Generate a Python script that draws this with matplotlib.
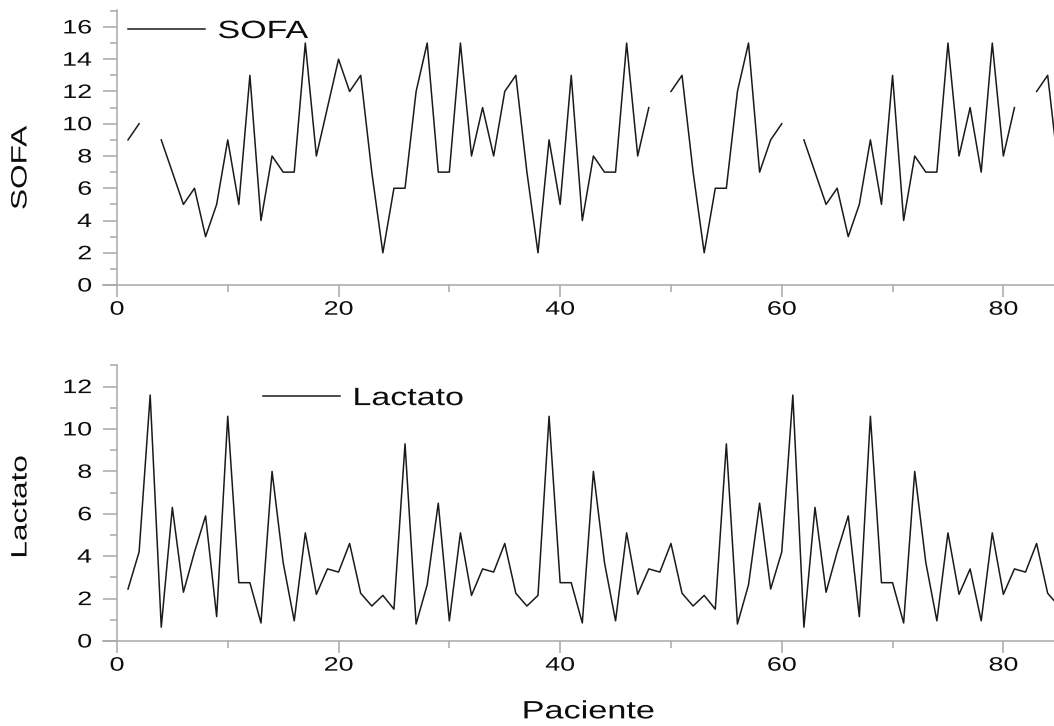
import numpy as np
import matplotlib.pyplot as plt
from matplotlib.patheffects import AbstractPathEffect
from matplotlib.transforms import Affine2D
from matplotlib.ticker import MultipleLocator

plt.rcParams['font.family'] = ['Liberation Sans', 'DejaVu Sans']

nan = np.nan

# patient index and the two measured series
paciente = np.arange(1, 86)
sofa = [9, 10, nan, 9, 7, 5, 6, 3, 5, 9,
        5, 13, 4, 8, 7, 7, 15, 8, 11, 14,
        12, 13, 7, 2, 6, 6, 12, 15, 7, 7,
        15, 8, 11, 8, 12, 13, 7, 2, 9, 5,
        13, 4, 8, 7, 7, 15, 8, 11, nan, 12,
        13, 7, 2, 6, 6, 12, 15, 7, 9, 10,
        nan, 9, 7, 5, 6, 3, 5, 9, 5, 13,
        4, 8, 7, 7, 15, 8, 11, 7, 15, 8,
        11, nan, 12, 13, 7]
lactato = [2.45, 4.2, 11.6, 0.65, 6.3, 2.3, 4.2, 5.9, 1.15, 10.6,
           2.75, 2.75, 0.85, 8.0, 3.7, 0.95, 5.1, 2.2, 3.4, 3.25,
           4.6, 2.25, 1.65, 2.15, 1.5, 9.3, 0.8, 2.65, 6.5, 0.95,
           5.1, 2.15, 3.4, 3.25, 4.6, 2.25, 1.65, 2.15, 10.6, 2.75,
           2.75, 0.85, 8.0, 3.7, 0.95, 5.1, 2.2, 3.4, 3.25, 4.6,
           2.25, 1.65, 2.15, 1.5, 9.3, 0.8, 2.65, 6.5, 2.45, 4.2,
           11.6, 0.65, 6.3, 2.3, 4.2, 5.9, 1.15, 10.6, 2.75, 2.75,
           0.85, 8.0, 3.7, 0.95, 5.1, 2.2, 3.4, 0.95, 5.1, 2.2,
           3.4, 3.25, 4.6, 2.25, 1.65]

x_ticks = [0, 20, 40, 60, 80]
sofa_ticks = list(range(0, 17, 2))
lactato_ticks = list(range(0, 13, 2))


class Stretch(AbstractPathEffect):
    """Widen glyphs horizontally around a fixed point of the text."""

    def __init__(self, sx, anchor=0.5):
        super().__init__()
        self.sx = sx
        self.anchor = anchor

    def draw_path(self, renderer, gc, tpath, affine, rgbFace=None):
        v = tpath.vertices
        if len(v) == 0:
            renderer.draw_path(gc, tpath, affine, rgbFace)
            return
        x0, x1 = v[:, 0].min(), v[:, 0].max()
        a = x0 + self.anchor * (x1 - x0)
        st = Affine2D().translate(-a, 0).scale(self.sx, 1).translate(a, 0)
        renderer.draw_path(gc, tpath, st + affine, rgbFace)


line_color = '#1a1a1a'
axis_color = '#a8a8a8'
text_color = '#0d0d0d'

fig = plt.figure(figsize=(10.54, 7.26), dpi=100)
ax1 = fig.add_axes([0.0977, 0.6074, 0.9023, 0.3788])
ax2 = fig.add_axes([0.0977, 0.1171, 0.9023, 0.3802])


def style_axis(ax, yticks, ytop, ylabel, label_y):
    ax.set_xlim(-1.26, 84.57)
    ax.set_ylim(0, ytop)
    for s in ['top', 'right']:
        ax.spines[s].set_visible(False)
    ax.spines['left'].set_position(('data', 0))
    for s in ['left', 'bottom']:
        ax.spines[s].set_color(axis_color)
        ax.spines[s].set_linewidth(1.1)
    ax.set_xticks(x_ticks)
    ax.set_yticks(yticks)
    ax.xaxis.set_minor_locator(MultipleLocator(10))
    ax.yaxis.set_minor_locator(MultipleLocator(1))
    ax.tick_params(axis='x', which='major', direction='out', length=8.5,
                   width=1.1, color=axis_color, pad=3.5,
                   labelsize=14, labelcolor=text_color)
    ax.tick_params(axis='x', which='minor', direction='out', length=5,
                   width=1.1, color=axis_color)
    ax.tick_params(axis='y', which='major', direction='out', length=10,
                   width=1.1, color=axis_color, pad=8,
                   labelsize=14, labelcolor=text_color)
    ax.tick_params(axis='y', which='minor', direction='out', length=5,
                   width=1.1, color=axis_color)
    for t in ax.get_xticklabels():
        t.set_path_effects([Stretch(1.38, 0.5)])
    for t in ax.get_yticklabels():
        t.set_path_effects([Stretch(1.38, 1.0)])
    ax.set_ylabel(ylabel, fontsize=16, color=text_color)
    ax.yaxis.label.set_va('center')
    ax.yaxis.label.set_path_effects([Stretch(1.42, 0.5)])
    ax.yaxis.set_label_coords(-0.0862, label_y)


# SOFA panel
ax1.plot(paciente, sofa, color=line_color, lw=1.1, label='SOFA')
style_axis(ax1, sofa_ticks, 17.05, 'SOFA', 0.426)
leg1 = ax1.legend(loc='center left', bbox_to_anchor=(0.0263, 0.9236),
                  frameon=False, fontsize=18, handlelength=3.1,
                  handletextpad=0.48, borderpad=0, borderaxespad=0)
for t in leg1.get_texts():
    t.set_color(text_color)
    t.set_path_effects([Stretch(1.36, 0.0)])

# Lactato panel
ax2.plot(paciente, lactato, color=line_color, lw=1.1, label='Lactato')
style_axis(ax2, lactato_ticks, 13.02, 'Lactato', 0.486)
leg2 = ax2.legend(loc='center left', bbox_to_anchor=(0.1682, 0.880),
                  frameon=False, fontsize=18, handlelength=3.1,
                  handletextpad=0.48, borderpad=0, borderaxespad=0)
for t in leg2.get_texts():
    t.set_color(text_color)
    t.set_path_effects([Stretch(1.36, 0.0)])

ax2.set_xlabel('Paciente', fontsize=18, color=text_color)
ax2.xaxis.label.set_va('center')
ax2.xaxis.label.set_path_effects([Stretch(1.37, 0.5)])
ax2.xaxis.set_label_coords(0.51, -0.255)

fig.savefig('out.png', dpi=100)
